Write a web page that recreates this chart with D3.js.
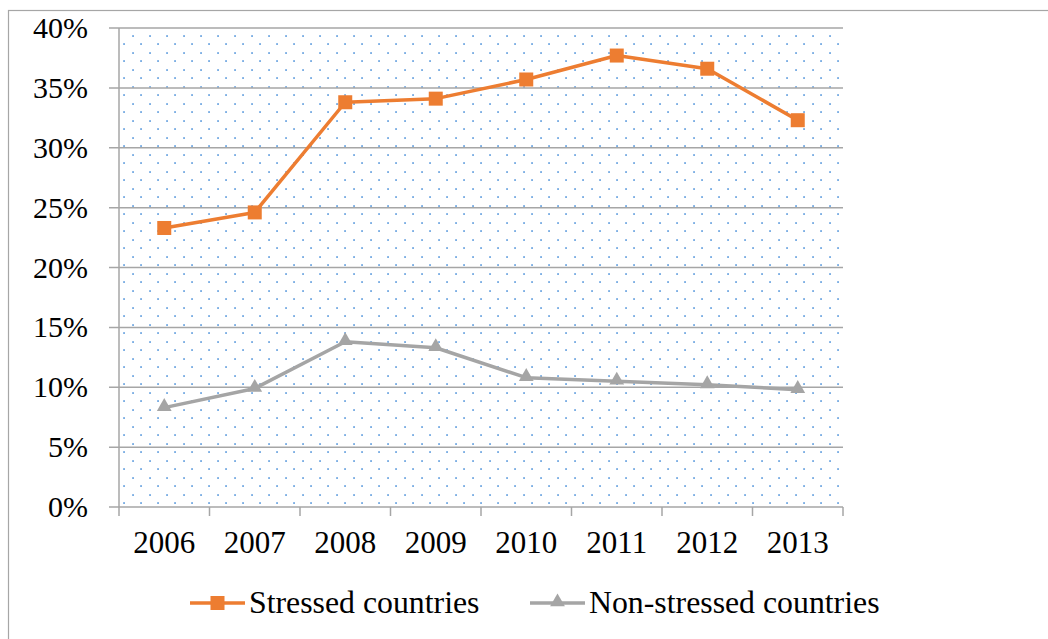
<!DOCTYPE html>
<html>
<head>
<meta charset="utf-8">
<script src="https://cdn.jsdelivr.net/npm/d3@7"></script>
</head>
<body>
<script>
//// DATA

const YEARS = ["2006", "2007", "2008", "2009", "2010", "2011", "2012", "2013"];
const STRESSED = [23.3, 24.6, 33.8, 34.1, 35.7, 37.7, 36.6, 32.3];
const NON_STRESSED = [8.3, 9.9, 13.8, 13.3, 10.8, 10.5, 10.2, 9.8];
const Y_TICKS = [0, 5, 10, 15, 20, 25, 30, 35, 40];
const SERIES_NAMES = ["Stressed countries", "Non-stressed countries"];

//// LAYOUT

const W = 1048, H = 639;
const PLOT = { left: 119, top: 28, right: 843, bottom: 507 };
const ORANGE = "#ed7d31";
const GREY = "#a5a5a5";
const AXIS_GREY = "#a6a6a6";
const FONT = "'Liberation Serif', 'Times New Roman', serif";

d3.select("body").style("margin", "0px");

const svg = d3.select("body").append("svg")
  .attr("width", W)
  .attr("height", H)
  .style("display", "block");

// dotted fill pattern
const defs = svg.append("defs");
const pat = defs.append("pattern")
  .attr("id", "dots")
  .attr("patternUnits", "userSpaceOnUse")
  .attr("x", 146).attr("y", 202)
  .attr("width", 17).attr("height", 17);
[[4, 4], [12, 12]].forEach(([px, py]) => {
  pat.append("rect")
    .attr("x", px - 0.75).attr("y", py - 0.75)
    .attr("width", 1.6).attr("height", 1.6)
    .attr("fill", "#4a90d9");
});

// outer chart border
svg.append("rect")
  .attr("x", 8.5).attr("y", 10.5)
  .attr("width", W + 20).attr("height", H + 20)
  .attr("fill", "none")
  .attr("stroke", "#a6a6a6")
  .attr("stroke-width", 1.2);

const x = d3.scaleBand()
  .domain(YEARS)
  .range([PLOT.left, PLOT.right]);

const y = d3.scaleLinear()
  .domain([0, 40])
  .range([PLOT.bottom, PLOT.top]);

// plot area fill
svg.append("rect")
  .attr("x", PLOT.left).attr("y", PLOT.top)
  .attr("width", PLOT.right - PLOT.left)
  .attr("height", PLOT.bottom - PLOT.top)
  .attr("fill", "url(#dots)");

// gridlines
svg.selectAll(".grid")
  .data(Y_TICKS)
  .enter().append("line")
  .attr("class", "grid")
  .attr("x1", PLOT.left - 10).attr("x2", PLOT.right)
  .attr("y1", d => y(d)).attr("y2", d => y(d))
  .attr("stroke", AXIS_GREY)
  .attr("stroke-width", 1.5);

// y labels
svg.selectAll(".ylabel")
  .data(Y_TICKS)
  .enter().append("text")
  .attr("class", "ylabel")
  .attr("x", 88)
  .attr("y", d => y(d) + 10)
  .attr("text-anchor", "end")
  .style("font-family", FONT)
  .style("font-size", "30px")
  .text(d => d + "%");

// vertical axis line
svg.append("line")
  .attr("x1", PLOT.left).attr("x2", PLOT.left)
  .attr("y1", PLOT.top).attr("y2", PLOT.bottom + 9)
  .attr("stroke", AXIS_GREY)
  .attr("stroke-width", 1.5);

// x ticks + labels
svg.selectAll(".xtick")
  .data(YEARS)
  .enter().append("line")
  .attr("class", "xtick")
  .attr("x1", d => x(d) + x.bandwidth()).attr("x2", d => x(d) + x.bandwidth())
  .attr("y1", PLOT.bottom).attr("y2", PLOT.bottom + 9)
  .attr("stroke", AXIS_GREY)
  .attr("stroke-width", 1.5);
svg.selectAll(".xlabel")
  .data(YEARS)
  .enter().append("text")
  .attr("class", "xlabel")
  .attr("x", d => x(d) + x.bandwidth() / 2)
  .attr("y", PLOT.bottom + 46)
  .attr("text-anchor", "middle")
  .style("font-family", FONT)
  .style("font-size", "31px")
  .text(d => d);

// series
const cx = d => x(d) + x.bandwidth() / 2;
const line = d3.line()
  .x(d => cx(d.year))
  .y(d => y(d.v));

const stressedData = YEARS.map((year, i) => ({ year, v: STRESSED[i] }));
const nonStressedData = YEARS.map((year, i) => ({ year, v: NON_STRESSED[i] }));

const triangle = d3.symbol().type(d3.symbolTriangle).size(95);

svg.append("path")
  .datum(nonStressedData)
  .attr("d", line)
  .attr("fill", "none")
  .attr("stroke", GREY)
  .attr("stroke-width", 3.5)
  .attr("stroke-linejoin", "round");
svg.selectAll(".tri")
  .data(nonStressedData)
  .enter().append("path")
  .attr("class", "tri")
  .attr("d", triangle)
  .attr("transform", d => `translate(${cx(d.year)},${y(d.v) - 1})`)
  .attr("fill", GREY);

svg.append("path")
  .datum(stressedData)
  .attr("d", line)
  .attr("fill", "none")
  .attr("stroke", ORANGE)
  .attr("stroke-width", 3.5)
  .attr("stroke-linejoin", "round");
svg.selectAll(".sq")
  .data(stressedData)
  .enter().append("rect")
  .attr("class", "sq")
  .attr("x", d => cx(d.year) - 7)
  .attr("y", d => y(d.v) - 7)
  .attr("width", 14).attr("height", 14)
  .attr("fill", ORANGE);

// legend
const LEGEND_Y = 603;
const legendItems = [
  { name: SERIES_NAMES[0], color: ORANGE, x0: 190, marker: "square" },
  { name: SERIES_NAMES[1], color: GREY, x0: 530, marker: "triangle" }
];
legendItems.forEach(it => {
  svg.append("line")
    .attr("x1", it.x0).attr("x2", it.x0 + 55)
    .attr("y1", LEGEND_Y).attr("y2", LEGEND_Y)
    .attr("stroke", it.color)
    .attr("stroke-width", 3.5);
  if (it.marker === "square") {
    svg.append("rect")
      .attr("x", it.x0 + 27.5 - 7).attr("y", LEGEND_Y - 7)
      .attr("width", 14).attr("height", 14)
      .attr("fill", it.color);
  } else {
    svg.append("path")
      .attr("d", triangle)
      .attr("transform", `translate(${it.x0 + 27.5},${LEGEND_Y - 1})`)
      .attr("fill", it.color);
  }
  svg.append("text")
    .attr("x", it.x0 + 59)
    .attr("y", LEGEND_Y + 10)
    .style("font-family", FONT)
    .style("font-size", "31.8px")
    .text(it.name);
});
</script>
</body>
</html>
